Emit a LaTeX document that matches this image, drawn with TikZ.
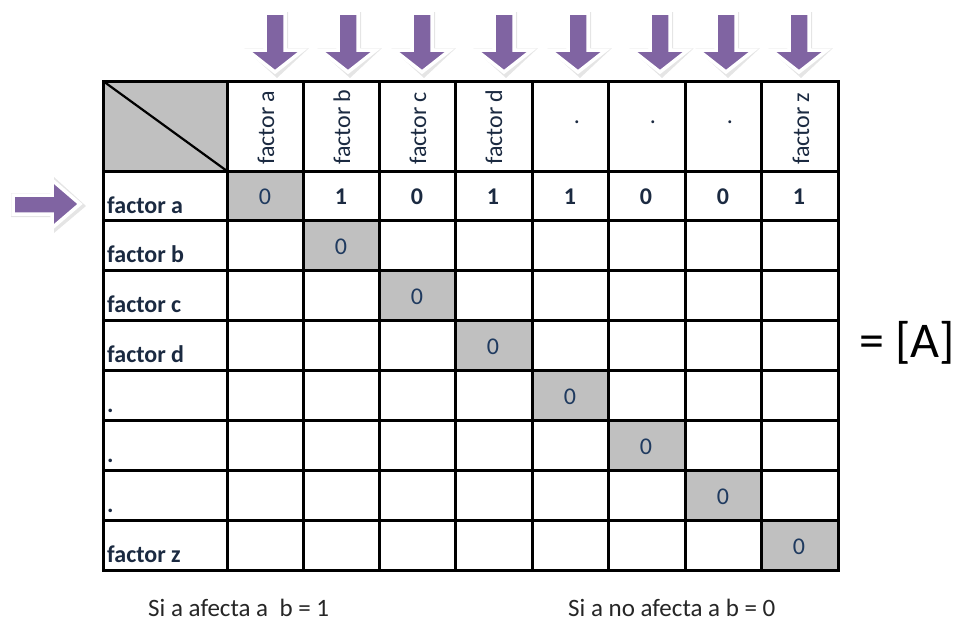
\documentclass[tikz,border=0pt]{standalone}
\usepackage{fontspec}
\setmainfont{Carlito}
\definecolor{arrowpurple}{HTML}{8064A2}
\definecolor{cellgray}{HTML}{C0C0C0}
\definecolor{navy}{HTML}{1B2A41}
\definecolor{digitblue}{HTML}{1F3A5F}
\begin{document}
\begin{tikzpicture}[x=1pt,y=-1pt,
  gridline/.style={line width=3pt,black},
  rowlabel/.style={anchor=base west,inner sep=0pt,font=\fontsize{24}{28}\selectfont\bfseries,text=navy},
  collabel/.style={anchor=base west,inner sep=0pt,rotate=90,font=\fontsize{24}{28}\selectfont,text=navy},
  dotlabel/.style={anchor=center,inner sep=0pt,font=\fontsize{24}{28}\selectfont,text=navy},
  cellval/.style={anchor=center,inner sep=0pt,font=\fontsize{24}{28}\selectfont\bfseries,text=navy},
  diagval/.style={anchor=center,inner sep=0pt,font=\fontsize{24}{28}\selectfont,text=digitblue},
  bottomtext/.style={anchor=base west,inner sep=0pt,font=\fontsize{25}{30}\selectfont,text=black!85},
  arrowbody/.style={fill=arrowpurple,draw=white,line width=3.5pt,line join=miter},
  arrowshadow/.style={fill=black,opacity=0.10},
  darrow/.pic={
    \fill[arrowshadow] (-11,12) -- (13,12) -- (13,48) -- (34,48) -- (2,78) -- (-31,48) -- (-11,48) -- cycle;
    \path[arrowbody] (-10,13) -- (10,13) -- (10,50) -- (28,50) -- (0,72) -- (-28,50) -- (-10,50) -- cycle;
  }]
\useasboundingbox[fill=white] (0,0) rectangle (961,622);

% gray cells
\fill[cellgray] (103,81) rectangle (227,171);
\foreach \xa/\xb/\ya/\yb in {227/303/171/220, 303/379/220/270, 379/455/270/320, 455/532/320/370, 532/608/370/420, 608/685/420/470, 685/761/470/520, 761/838/520/570}
  \fill[cellgray] (\xa,\ya) rectangle (\xb,\yb);

% grid
\foreach \x in {227,303,379,455,532,608,685,761}
  \draw[gridline] (\x,81) -- (\x,570);
\foreach \y in {171,220,270,320,370,420,470,520}
  \draw[gridline] (103,\y) -- (838,\y);
\draw[gridline] (103,81) rectangle (838,570);
\draw[line width=2.2pt] (103,81) -- (227,171);

% arrows
\foreach \ax in {275,348,422,504,578,660,726,799}
  \pic at (\ax,0) {darrow};
\fill[arrowshadow] (11,193) -- (54,193) -- (54,177) -- (86,206) -- (54,233) -- (54,217) -- (11,217) -- cycle;
\path[arrowbody] (13,195) -- (52,195) -- (52,180) -- (80,204) -- (52,228) -- (52,214) -- (13,214) -- cycle;

% column headers
\node[collabel] (h1) at (274,165) {factor a};
\node[collabel] (h2) at (350,165) {factor b};
\node[collabel] (h3) at (426,165) {factor c};
\node[collabel] (h4) at (502,165) {factor d};
\node[dotlabel] (h5) at (577,122) {.};
\node[dotlabel] (h6) at (653,122) {.};
\node[dotlabel] (h7) at (730,122) {.};
\node[collabel] (h8) at (809,165) {factor z};

% row labels
\node[rowlabel] (r1) at (107,213) {factor a};
\node[rowlabel] (r2) at (107,262) {factor b};
\node[rowlabel] (r3) at (107,312) {factor c};
\node[rowlabel] (r4) at (107,362) {factor d};
\node[rowlabel] (r5) at (107,412) {.};
\node[rowlabel] (r6) at (107,462) {.};
\node[rowlabel] (r7) at (107,512) {.};
\node[rowlabel] (r8) at (107,562) {factor z};

% first row values
\node[diagval] (v11) at (265,197) {0};
\node[cellval] (v12) at (341,197) {1};
\node[cellval] (v13) at (417,197) {0};
\node[cellval] (v14) at (493,197) {1};
\node[cellval] (v15) at (570,197) {1};
\node[cellval] (v16) at (646,197) {0};
\node[cellval] (v17) at (723,197) {0};
\node[cellval] (v18) at (799,197) {1};

% diagonal zeros
\node[diagval] (d2) at (341,247) {0};
\node[diagval] (d3) at (417,297) {0};
\node[diagval] (d4) at (493,347) {0};
\node[diagval] (d5) at (570,397) {0};
\node[diagval] (d6) at (646,447) {0};
\node[diagval] (d7) at (723,497) {0};
\node[diagval] (d8) at (799,547) {0};

% equals A
\node[anchor=base west,inner sep=0pt,font=\fontsize{50}{60}\selectfont] (eq) at (859,357) {= [A]};

% bottom notes
\node[bottomtext] (n1) at (148,616) {Si a afecta a \ b = 1};
\node[bottomtext] (n2) at (568,616) {Si a no afecta a b = 0};
\end{tikzpicture}
\end{document}
